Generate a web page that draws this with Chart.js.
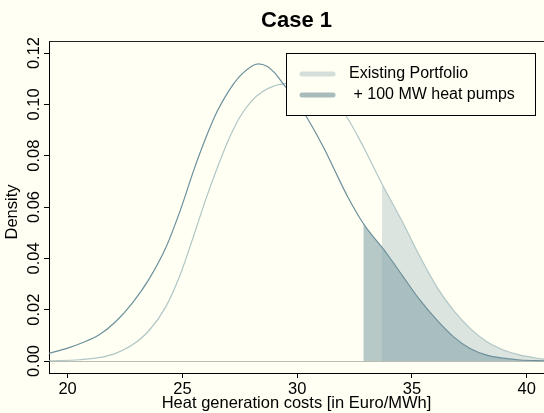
<!DOCTYPE html>
<html>
<head>
<meta charset="utf-8">
<script src="https://cdn.jsdelivr.net/npm/chart.js@4.4.1/dist/chart.umd.min.js"></script>
<style>
  html, body { margin: 0; padding: 0; background: #fffff3; }
  canvas { display: block; }
</style>
</head>
<body>
<canvas id="chart" width="544" height="413"></canvas>
<script>
// Density curves (x = cost in Euro/MWh, y = density)
const existingX = [19.19, 20.5, 21.36, 22.09, 22.81, 23.54, 24.27, 24.9, 25.5, 26.0, 26.5, 27.0, 27.5, 28.0, 28.5, 29.0, 29.5, 30.0, 30.5, 31.0, 31.5, 32.16, 32.88, 33.69, 34.62, 35.35, 36.08, 36.8, 37.53, 38.26, 38.98, 39.71, 40.75];
const existingDensity = [0.0001, 0.0005, 0.0013, 0.0030, 0.0062, 0.0118, 0.0210, 0.0335, 0.0490, 0.0625, 0.0748, 0.0860, 0.0950, 0.1012, 0.1050, 0.1072, 0.1081, 0.1084, 0.1078, 0.1060, 0.1025, 0.0951, 0.0835, 0.0691, 0.0536, 0.0406, 0.0289, 0.0198, 0.0127, 0.0075, 0.0043, 0.0023, 0.0007];

const heatPumpX = [19.19, 20.0, 20.64, 21.36, 22.09, 22.81, 23.54, 24.27, 24.9, 25.5, 26.0, 26.5, 27.0, 27.5, 28.0, 28.3, 28.7, 29.0, 29.39, 29.9, 30.41, 31.14, 31.57, 32.2, 32.88, 33.9, 34.62, 35.35, 36.08, 36.8, 37.53, 38.26, 38.98, 39.71, 40.75];
const heatPumpDensity = [0.0030, 0.0050, 0.0071, 0.0101, 0.0153, 0.0225, 0.0318, 0.0440, 0.0585, 0.0745, 0.0865, 0.0970, 0.1050, 0.1110, 0.1148, 0.1158, 0.1148, 0.1125, 0.1080, 0.1020, 0.0951, 0.0834, 0.0755, 0.0640, 0.0536, 0.0419, 0.0328, 0.0237, 0.0160, 0.0095, 0.0049, 0.0023, 0.0011, 0.0004, 0.0001];

// shaded upper tails start here
const existingCutoff = 33.69;
const heatPumpCutoff = 32.88;

const seriesLabels = ['Existing Portfolio', ' + 100 MW heat pumps'];
const xTicks = [20, 25, 30, 35, 40];
const yTicks = [0, 0.02, 0.04, 0.06, 0.08, 0.10, 0.12];
const yTickLabels = ['0.00', '0.02', '0.04', '0.06', '0.08', '0.10', '0.12'];

const chartTitle = 'Case 1';
const xTitle = 'Heat generation costs [in Euro/MWh]';
const yTitle = 'Density';

const BG = '#fffff3';
const FONT = '"Liberation Sans", Arial, sans-serif';
const lightLine = 'rgb(176,198,198)';
const darkLine = 'rgb(108,144,156)';
const lightFill = 'rgb(220,228,223)';
const darkFill = 'rgba(133,165,170,0.6)';
const legendColors = ['rgb(212,222,218)', 'rgb(168,188,188)'];

function toPoints(xs, ys) {
    return xs.map((x, i) => ({ x: x, y: ys[i] }));
}

const existingPts = toPoints(existingX, existingDensity);
const heatPumpPts = toPoints(heatPumpX, heatPumpDensity);

const decorPlugin = {
    id: 'decor',
    beforeDraw(chart) {
        const c = chart.ctx;
        c.save();
        c.fillStyle = BG;
        c.fillRect(0, 0, chart.width, chart.height);
        c.restore();
    },
    afterDatasetsDraw(chart) {
        const c = chart.ctx;
        const area = chart.chartArea;
        c.save();
        // top frame line
        c.strokeStyle = '#222';
        c.lineWidth = 1;
        c.beginPath();
        c.moveTo(area.left, Math.round(area.top) + 0.5);
        c.lineTo(area.right, Math.round(area.top) + 0.5);
        c.stroke();

        // legend box
        c.fillStyle = BG;
        c.fillRect(286, 53, 249, 62);
        c.strokeStyle = '#000';
        c.strokeRect(286.5, 53.5, 249, 62);
        const rows = [74, 95];
        c.lineWidth = 5;
        c.lineCap = 'round';
        c.font = '16px ' + FONT;
        c.textBaseline = 'middle';
        seriesLabels.forEach((lbl, i) => {
            c.strokeStyle = legendColors[i];
            c.beginPath();
            c.moveTo(302, rows[i]);
            c.lineTo(333, rows[i]);
            c.stroke();
            c.fillStyle = '#000';
            c.fillText(lbl, 349, rows[i]);
        });
        c.restore();
    },
    afterDraw(chart) {
        const c = chart.ctx;
        const area = chart.chartArea;
        const yScale = chart.scales.y;
        c.save();
        c.fillStyle = '#000';
        // chart title
        c.font = 'bold 22px ' + FONT;
        c.textAlign = 'center';
        c.textBaseline = 'alphabetic';
        c.fillText(chartTitle, (area.left + area.right) / 2, 27);

        // rotated y tick labels
        c.font = '16.5px ' + FONT;
        yTicks.forEach((v, i) => {
            c.save();
            c.translate(38.5, yScale.getPixelForValue(v));
            c.rotate(-Math.PI / 2);
            c.textAlign = 'center';
            c.textBaseline = 'alphabetic';
            c.fillText(yTickLabels[i], 0, 0);
            c.restore();
        });

        // y axis title
        c.font = '16.5px ' + FONT;
        c.translate(17, 212);
        c.rotate(-Math.PI / 2);
        c.textAlign = 'center';
        c.textBaseline = 'alphabetic';
        c.fillText(yTitle, 0, 0);
        c.restore();
    }
};

const ctx = document.getElementById('chart').getContext('2d');

new Chart(ctx, {
    type: 'line',
    data: {
        datasets: [
            {
                label: seriesLabels[1],
                data: heatPumpPts,
                borderColor: darkLine,
                borderWidth: 1.2,
                fill: false
            },
            {
                label: seriesLabels[0],
                data: existingPts,
                borderColor: lightLine,
                borderWidth: 1.2,
                fill: false
            },
            {
                label: 'tail heat pumps',
                data: heatPumpPts.filter(p => p.x >= heatPumpCutoff),
                borderWidth: 0,
                borderColor: 'transparent',
                backgroundColor: darkFill,
                fill: 'origin'
            },
            {
                label: 'tail existing',
                data: existingPts.filter(p => p.x >= existingCutoff),
                borderWidth: 0,
                borderColor: 'transparent',
                backgroundColor: lightFill,
                fill: 'origin'
            }
        ]
    },
    options: {
        responsive: false,
        animation: false,
        events: [],
        layout: { padding: { top: 41, left: 0, right: 0, bottom: 0 } },
        elements: {
            point: { radius: 0 },
            line: { cubicInterpolationMode: 'monotone' }
        },
        plugins: {
            legend: { display: false },
            tooltip: { enabled: false }
        },
        scales: {
            x: {
                type: 'linear',
                min: 19.19,
                max: 40.75,
                afterBuildTicks: s => { s.ticks = xTicks.map(v => ({ value: v })); },
                afterFit: s => { s.height = 40; },
                grid: { color: 'transparent', tickColor: '#000', tickLength: 5, drawOnChartArea: false },
                border: { color: '#000', width: 1 },
                ticks: {
                    color: '#000',
                    padding: 2,
                    maxRotation: 0,
                    font: { family: FONT, size: 16.5 }
                },
                title: {
                    display: true,
                    text: xTitle,
                    color: '#000',
                    padding: 0,
                    font: { family: FONT, size: 16.5 }
                }
            },
            y: {
                type: 'linear',
                min: -0.00467,
                max: 0.1247,
                afterBuildTicks: s => { s.ticks = yTicks.map(v => ({ value: v })); },
                afterFit: s => { s.width = 49; },
                grid: {
                    color: c => (c.tick && c.tick.value === 0 ? 'rgb(188,188,178)' : 'transparent'),
                    tickColor: '#000',
                    tickLength: 5
                },
                border: { color: '#000', width: 1 },
                ticks: { display: false }
            }
        }
    },
    plugins: [decorPlugin]
});
</script>
</body>
</html>
